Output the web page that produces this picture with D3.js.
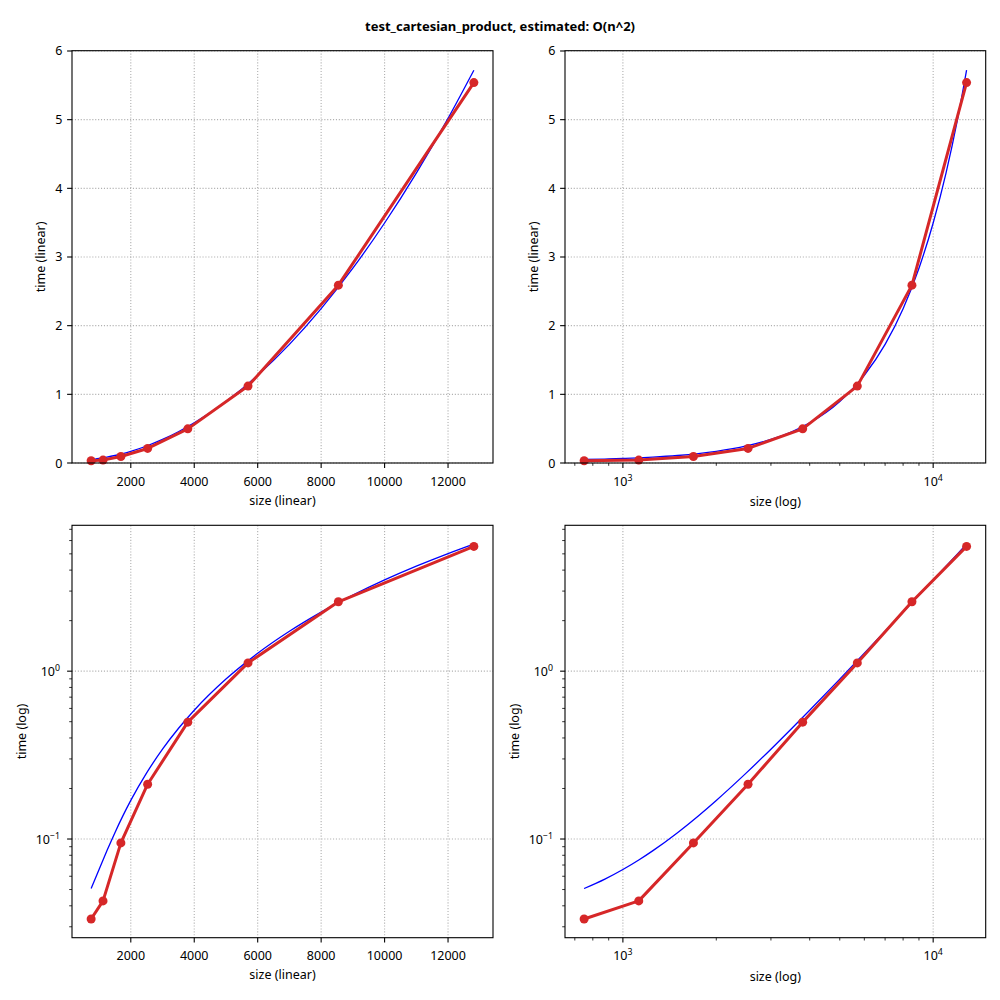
<!DOCTYPE html>
<html><head><meta charset="utf-8">
<script src="https://cdn.jsdelivr.net/npm/d3@7"></script>
<style>body{margin:0;background:#fff} text{font-family:"Noto Sans",sans-serif;fill:#000}</style>
</head><body><svg id="c" width="1000" height="1000"></svg>
<script>
// ---- data ----
const sizes = [750, 1125, 1688, 2531, 3797, 5695, 8543, 12814];
const times = [0.0334, 0.0428, 0.0948, 0.212, 0.497, 1.12, 2.59, 5.54];
const fitSizes = [750, 875, 1000, 1125, 1250, 1500, 1750, 2000, 2500, 3000, 3500, 4000, 5000, 6000, 7000, 8000, 9000, 10000, 11000, 12000, 12814];
const fitTimes = [0.0507, 0.0577, 0.0658, 0.0750, 0.0853, 0.1091, 0.1373, 0.1698, 0.2477, 0.343, 0.4555, 0.5854, 0.897, 1.278, 1.728, 2.248, 2.837, 3.495, 4.222, 5.019, 5.72];
const xTicksLinear = [2000, 4000, 6000, 8000, 10000, 12000];
const yTicksLinear = [0, 1, 2, 3, 4, 5, 6];
const xLogMajorExp = [3, 4];
const yLogMajorExp = [-1, 0];
const titleText = "test_cartesian_product, estimated: O(n^2)";

const svg = d3.select("#c");
const FS = 12.5;
const RED = "#d62728", BLUE = "#0000ff";

svg.append("text").attr("x", 500).attr("y", 31).attr("text-anchor", "middle")
  .style("font-size", "13px").style("font-weight", "bold").text(titleText);

const panels = [
  {xt: "linear", yt: "linear", l: 72, r: 493, t: 50.7, b: 463},
  {xt: "log", yt: "linear", l: 565, r: 985.7, t: 50.7, b: 463},
  {xt: "linear", yt: "log", l: 72, r: 493, t: 525.3, b: 937.7},
  {xt: "log", yt: "log", l: 565, r: 985.7, t: 525.3, b: 937.7}
];

const allX = sizes.concat(fitSizes);
const allY = times.concat(fitTimes);
const xmin = d3.min(allX), xmax = d3.max(allX);
const ymin = d3.min(allY), ymax = d3.max(allY);

function linDomain(a, b) { const m = (b - a) * 0.05; return [a - m, b + m]; }
function logDomain(a, b) { const la = Math.log10(a), lb = Math.log10(b), m = (lb - la) * 0.05; return [Math.pow(10, la - m), Math.pow(10, lb + m)]; }
function minors(dom) {
  const out = [];
  const e0 = Math.floor(Math.log10(dom[0])), e1 = Math.ceil(Math.log10(dom[1]));
  for (let e = e0; e <= e1; e++) for (let k = 2; k <= 9; k++) {
    const v = k * Math.pow(10, e);
    if (v >= dom[0] && v <= dom[1]) out.push(v);
  }
  return out;
}
const supMap = {"-": "\u2212"};
function sup(e) { return String(e).split("").map(c => supMap[c] || c).join(""); }

panels.forEach(p => {
  const g = svg.append("g");
  let x, y;
  if (p.xt === "linear") x = d3.scaleLinear().domain(linDomain(xmin, xmax)).range([p.l, p.r]);
  else x = d3.scaleLog().domain(logDomain(xmin, xmax)).range([p.l, p.r]);
  if (p.yt === "linear") y = d3.scaleLinear().domain([0, linDomain(ymin, ymax)[1]]).range([p.b, p.t]);
  else y = d3.scaleLog().domain(logDomain(ymin, ymax)).range([p.b, p.t]);

  const xMaj = p.xt === "linear" ? xTicksLinear : xLogMajorExp.map(e => Math.pow(10, e));
  const yMaj = p.yt === "linear" ? yTicksLinear : yLogMajorExp.map(e => Math.pow(10, e));
  const xMin = p.xt === "log" ? minors(x.domain()) : [];
  const yMin = p.yt === "log" ? minors(y.domain()) : [];

  // grid
  const grid = g.append("g").attr("stroke", "#b0b0b0").attr("stroke-width", 1.1).attr("stroke-dasharray", "1.1,1.8");
  xMaj.forEach(v => grid.append("line").attr("x1", x(v)).attr("x2", x(v)).attr("y1", p.t).attr("y2", p.b));
  yMaj.forEach(v => grid.append("line").attr("y1", y(v)).attr("y2", y(v)).attr("x1", p.l).attr("x2", p.r));

  // ticks
  const tk = g.append("g").attr("stroke", "#000").attr("stroke-width", 1.1);
  xMaj.forEach(v => tk.append("line").attr("x1", x(v)).attr("x2", x(v)).attr("y1", p.b).attr("y2", p.b + 4.9));
  xMin.forEach(v => tk.append("line").attr("x1", x(v)).attr("x2", x(v)).attr("y1", p.b).attr("y2", p.b + 2.8).attr("stroke-width", 0.8));
  yMaj.forEach(v => tk.append("line").attr("y1", y(v)).attr("y2", y(v)).attr("x1", p.l).attr("x2", p.l - 4.9));
  yMin.forEach(v => tk.append("line").attr("y1", y(v)).attr("y2", y(v)).attr("x1", p.l).attr("x2", p.l - 2.8).attr("stroke-width", 0.8));

  // tick labels
  xMaj.forEach((v, i) => {
    const t = g.append("text").attr("x", x(v)).attr("y", p.b + 22.5).attr("text-anchor", "middle").style("font-size", FS + "px");
    if (p.xt === "linear") t.text(String(v));
    else { t.append("tspan").text("10"); t.append("tspan").attr("dy", -5).style("font-size", (FS * 0.7) + "px").text(sup(xLogMajorExp[i])); }
  });
  yMaj.forEach((v, i) => {
    const t = g.append("text").attr("y", y(v) + 4.5).attr("text-anchor", "end").style("font-size", FS + "px");
    if (p.yt === "linear") t.attr("x", p.l - 9.5).text(String(v));
    else { t.attr("x", p.l - 12); t.append("tspan").text("10"); t.append("tspan").attr("dy", -5).style("font-size", (FS * 0.7) + "px").text(sup(yLogMajorExp[i])); }
  });

  // axis labels
  g.append("text").attr("x", (p.l + p.r) / 2).attr("y", p.b + (p.xt === "log" ? 43 : 41.5)).attr("text-anchor", "middle")
    .style("font-size", FS + "px").text(p.xt === "linear" ? "size (linear)" : "size (log)");
  const ylx = p.yt === "linear" ? p.l - 27 : p.l - 46;
  g.append("text").attr("transform", `translate(${ylx},${(p.t + p.b) / 2}) rotate(-90)`).attr("text-anchor", "middle")
    .style("font-size", FS + "px").text(p.yt === "linear" ? "time (linear)" : "time (log)");

  // fit line
  g.append("path").datum(fitSizes.map((s, i) => [s, fitTimes[i]]))
    .attr("fill", "none").attr("stroke", BLUE).attr("stroke-width", 1.3)
    .attr("d", d3.line().x(d => x(d[0])).y(d => y(d[1])).curve(d3.curveMonotoneX));
  // measured line
  const pts = sizes.map((s, i) => [s, times[i]]);
  g.append("path").datum(pts).attr("fill", "none").attr("stroke", RED).attr("stroke-width", 3)
    .attr("stroke-linejoin", "round")
    .attr("d", d3.line().x(d => x(d[0])).y(d => y(d[1])));
  g.selectAll(null).data(pts).enter().append("circle")
    .attr("cx", d => x(d[0])).attr("cy", d => y(d[1])).attr("r", 4.5).attr("fill", RED);

  // frame
  g.append("rect").attr("x", p.l).attr("y", p.t).attr("width", p.r - p.l).attr("height", p.b - p.t)
    .attr("fill", "none").attr("stroke", "#000").attr("stroke-width", 1.1);
});
</script></body></html>
